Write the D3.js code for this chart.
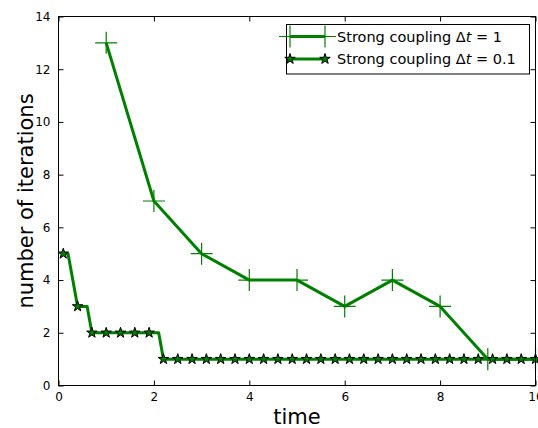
<!DOCTYPE html>
<html><head><meta charset="utf-8">
<script src="https://cdn.jsdelivr.net/npm/d3@7"></script>
<style>body{margin:0;background:#fff;} text{font-family:"DejaVu Sans",sans-serif;}</style>
</head><body>
<svg id="c" width="538" height="428"></svg>
<script>
const xTicks = [0, 2, 4, 6, 8, 10];
const yTicks = [0, 2, 4, 6, 8, 10, 12, 14];
const seriesNames = ["Strong coupling", "Strong coupling"];
const dtLabels = ["1", "0.1"];
const t1 = [1, 2, 3, 4, 5, 6, 7, 8, 9, 10];
const v1 = [13, 7, 5, 4, 4, 3, 4, 3, 1, 1];
const t2 = [0.1,0.2,0.3,0.4,0.5,0.6,0.7,0.8,0.9,1.0,1.1,1.2,1.3,1.4,1.5,1.6,1.7,1.8,1.9,2.0,
  2.1,2.2,2.3,2.4,2.5,2.6,2.7,2.8,2.9,3.0,3.1,3.2,3.3,3.4,3.5,3.6,3.7,3.8,3.9,4.0,
  4.1,4.2,4.3,4.4,4.5,4.6,4.7,4.8,4.9,5.0,5.1,5.2,5.3,5.4,5.5,5.6,5.7,5.8,5.9,6.0,
  6.1,6.2,6.3,6.4,6.5,6.6,6.7,6.8,6.9,7.0,7.1,7.2,7.3,7.4,7.5,7.6,7.7,7.8,7.9,8.0,
  8.1,8.2,8.3,8.4,8.5,8.6,8.7,8.8,8.9,9.0,9.1,9.2,9.3,9.4,9.5,9.6,9.7,9.8,9.9,10.0];
const v2 = [5,5,4,3,3,3,2,2,2,2,2,2,2,2,2,2,2,2,2,2,
  2,1,1,1,1,1,1,1,1,1,1,1,1,1,1,1,1,1,1,1,
  1,1,1,1,1,1,1,1,1,1,1,1,1,1,1,1,1,1,1,1,
  1,1,1,1,1,1,1,1,1,1,1,1,1,1,1,1,1,1,1,1,
  1,1,1,1,1,1,1,1,1,1,1,1,1,1,1,1,1,1,1,1];

const green = "#008000";
const L = 58.5, R = 535.5, T = 16.5, B = 385.5;
const svg = d3.select("#c");
const x = d3.scaleLinear().domain([0, 10]).range([L, R]);
const y = d3.scaleLinear().domain([0, 14]).range([B, T]);

// ticks inside, all four sides
const tl = 5;
svg.append("g").attr("transform", `translate(0,${B})`)
  .call(d3.axisBottom(x).tickValues(xTicks).tickSize(-tl).tickPadding(7).tickFormat(d3.format("d")))
  .call(g => { g.select(".domain").remove(); g.selectAll("text").attr("font-size", 12).attr("fill", "#000"); });
svg.append("g").attr("transform", `translate(0,${T})`)
  .call(d3.axisTop(x).tickValues(xTicks).tickSize(-tl).tickFormat(""))
  .call(g => g.select(".domain").remove());
svg.append("g").attr("transform", `translate(${L},0)`)
  .call(d3.axisLeft(y).tickValues(yTicks).tickSize(-tl).tickPadding(8).tickFormat(d3.format("d")))
  .call(g => { g.select(".domain").remove(); g.selectAll("text").attr("font-size", 12).attr("fill", "#000"); });
svg.append("g").attr("transform", `translate(${R},0)`)
  .call(d3.axisRight(y).tickValues(yTicks).tickSize(-tl).tickFormat(""))
  .call(g => g.select(".domain").remove());

svg.append("clipPath").attr("id", "clip").append("rect")
  .attr("x", L).attr("y", T).attr("width", R - L).attr("height", B - T);
const plot = svg.append("g").attr("clip-path", "url(#clip)");

const line = d3.line().x(d => x(d[0])).y(d => y(d[1]));
const d1 = t1.map((t, i) => [t, v1[i]]);
const d2 = t2.map((t, i) => [t, v2[i]]);

plot.append("path").attr("d", line(d1)).attr("fill", "none").attr("stroke", green).attr("stroke-width", 3).attr("stroke-linejoin", "round");
plot.append("path").attr("d", line(d2)).attr("fill", "none").attr("stroke", green).attr("stroke-width", 3).attr("stroke-linejoin", "round");

const plus = (g, cx, cy, s) => g.append("path")
  .attr("d", `M${cx - s},${cy}H${cx + s}M${cx},${cy - s}V${cy + s}`)
  .attr("stroke", green).attr("stroke-width", 1.2).attr("fill", "none");
const star = d3.symbol().type(d3.symbolStar).size(34);
const starAt = (g, cx, cy) => g.append("path").attr("d", star())
  .attr("transform", `translate(${cx},${cy})`)
  .attr("fill", green).attr("stroke", "#000").attr("stroke-width", 1).attr("stroke-linejoin", "miter");

const markG = svg.append("g");
d1.forEach(d => plus(markG, x(d[0]), y(d[1]), 11));
d2.filter((d, i) => i % 3 === 0).forEach(d => starAt(markG, x(d[0]), y(d[1])));

// frame
svg.append("rect").attr("x", L).attr("y", T).attr("width", R - L).attr("height", B - T)
  .attr("fill", "none").attr("stroke", "#000").attr("stroke-width", 1);

// axis labels
svg.append("text").attr("x", (L + R) / 2).attr("y", 424).attr("text-anchor", "middle")
  .attr("font-size", 21).text("time");
svg.append("text").attr("transform", `translate(33,${(T + B) / 2}) rotate(-90)`)
  .attr("text-anchor", "middle").attr("font-size", 21).text("number of iterations");

// legend
const lg = svg.append("g");
lg.append("rect").attr("x", 286.5).attr("y", 24.5).attr("width", 243).attr("height", 49.5)
  .attr("fill", "#fff").attr("stroke", "#000").attr("stroke-width", 1);
const rows = [36.5, 59];
rows.forEach((ry, i) => {
  lg.append("line").attr("x1", 290).attr("x2", 325).attr("y1", ry).attr("y2", ry)
    .attr("stroke", green).attr("stroke-width", 3);
  if (i === 0) { plus(lg, 290, ry, 11); plus(lg, 325, ry, 11); }
  else { starAt(lg, 290, ry); starAt(lg, 325, ry); }
  const tx = lg.append("text").attr("x", 337).attr("y", ry + 5).attr("font-size", 14.5);
  tx.append("tspan").text(seriesNames[i] + " \u0394");
  tx.append("tspan").attr("font-style", "italic").text("t");
  tx.append("tspan").text(" = " + dtLabels[i]);
});
</script>
</body></html>
